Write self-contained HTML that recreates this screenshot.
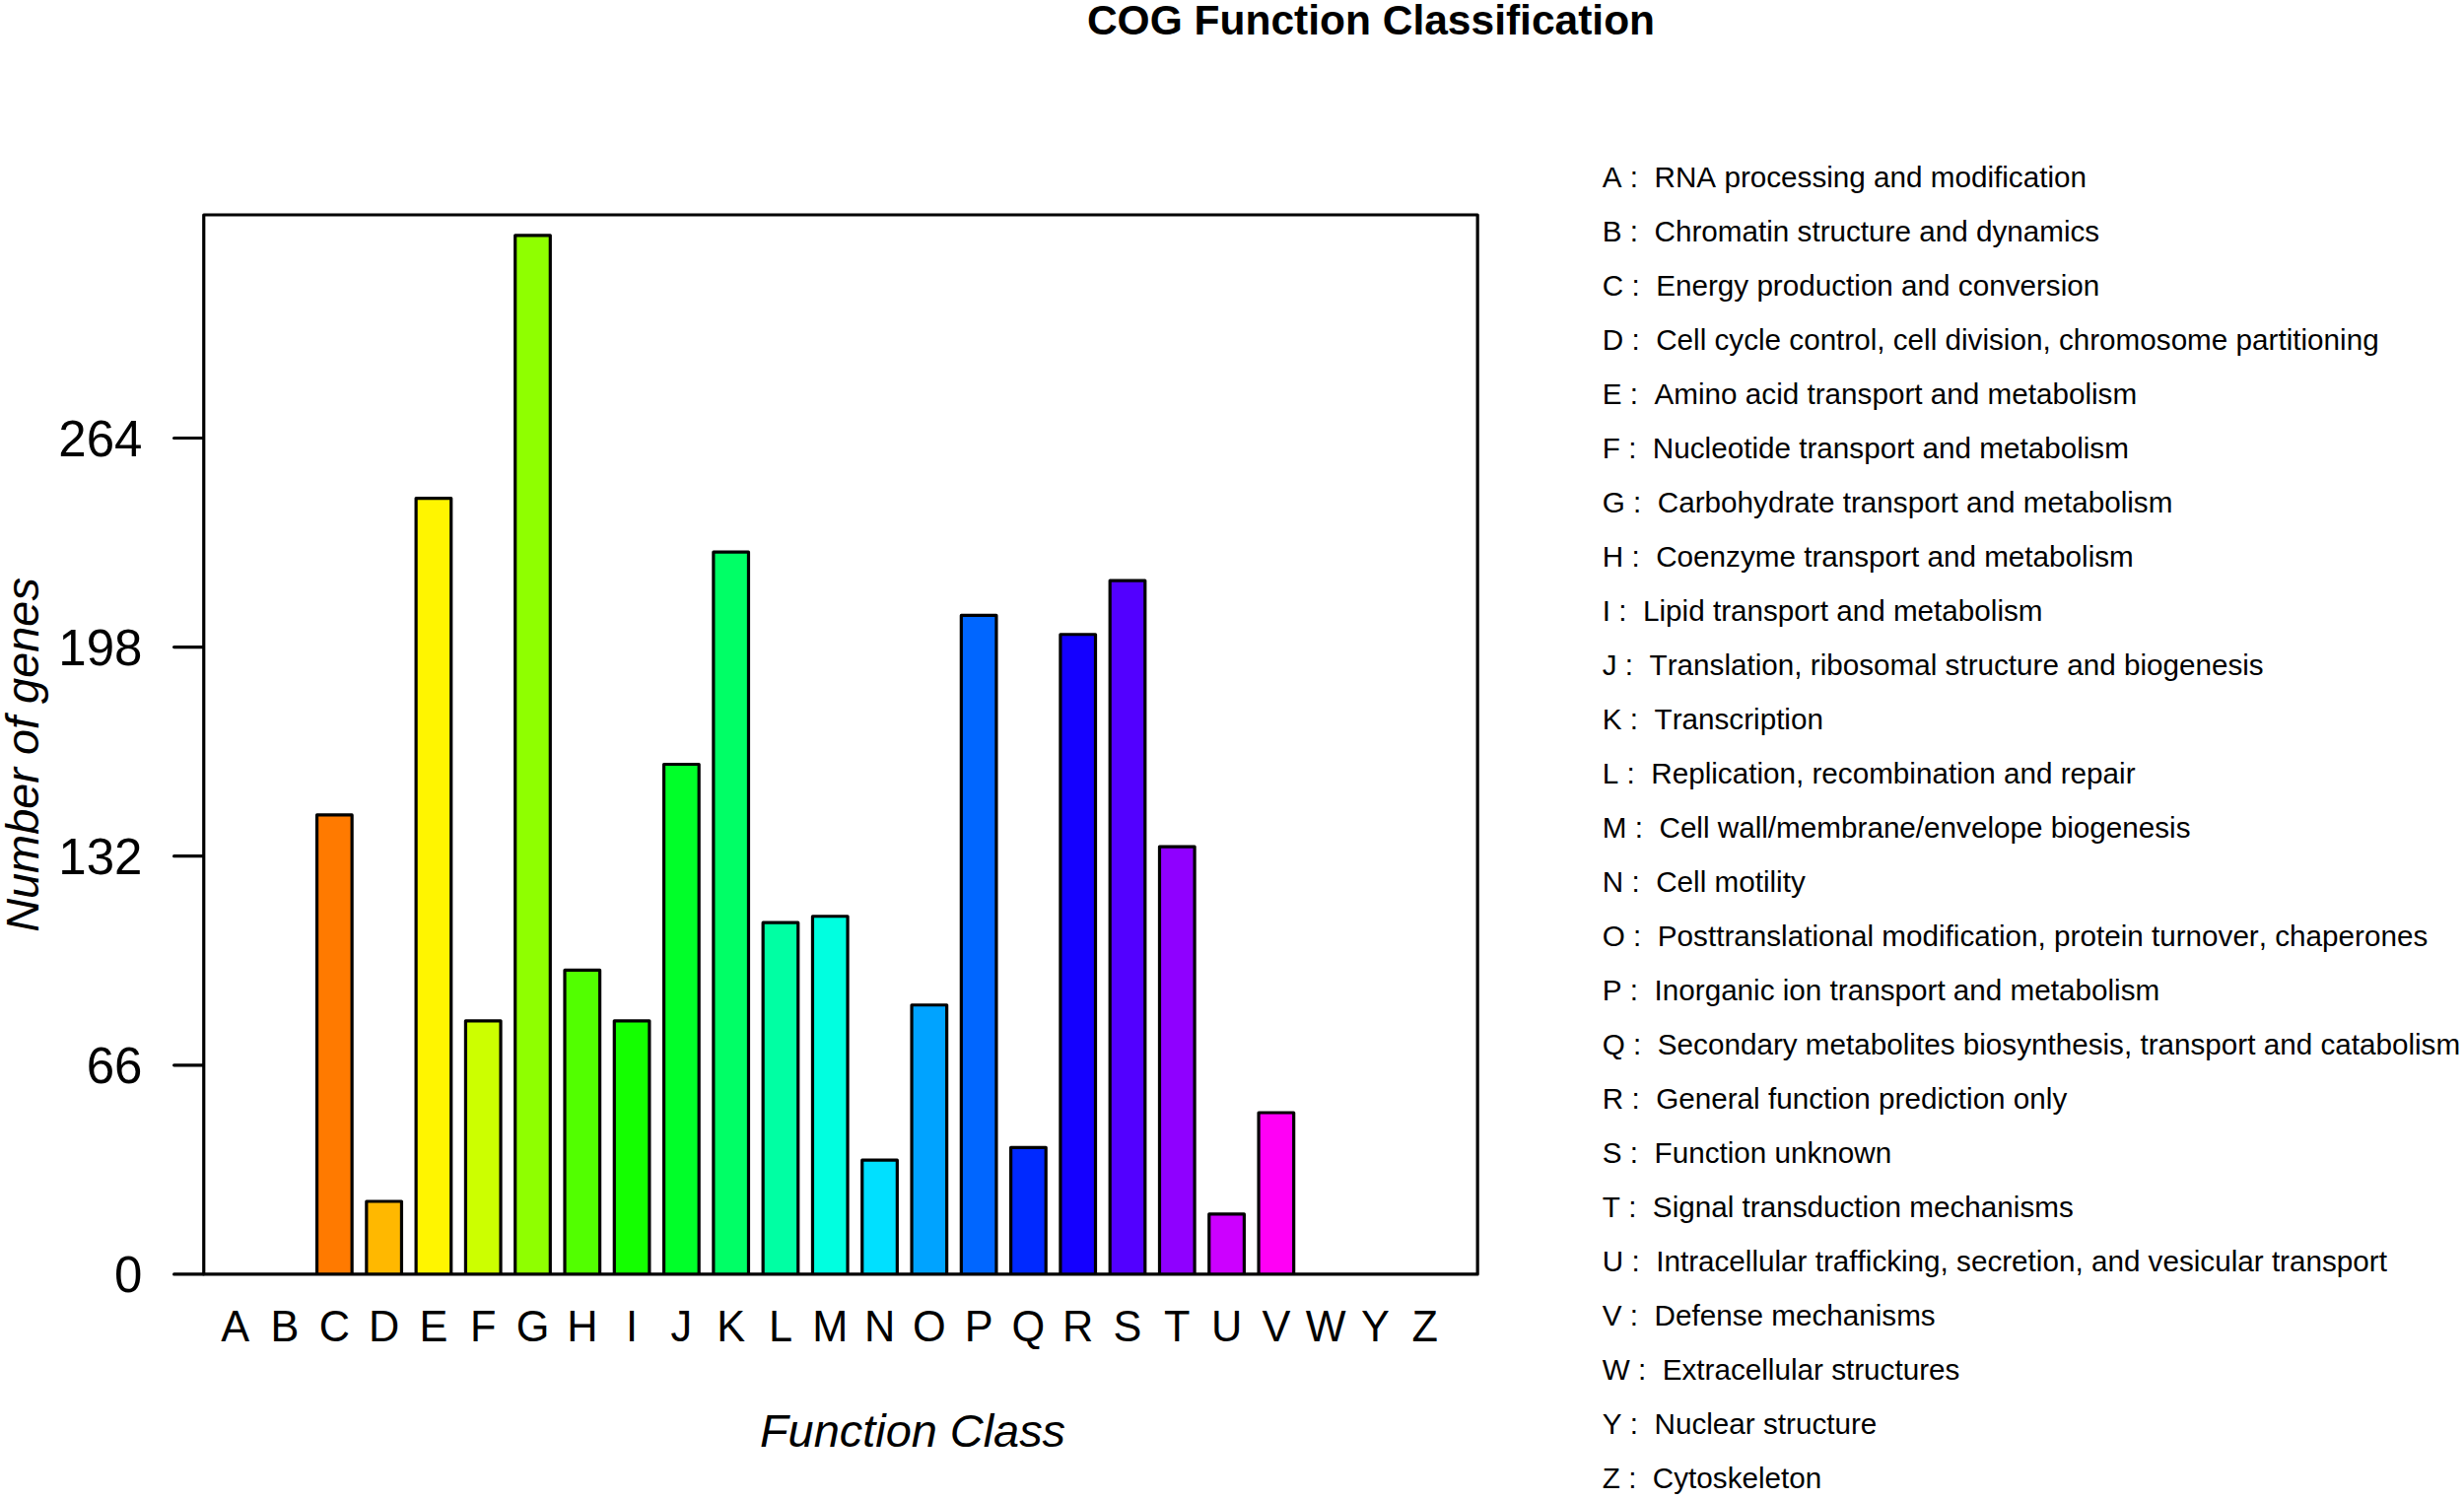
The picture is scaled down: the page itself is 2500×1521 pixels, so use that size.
<!DOCTYPE html>
<html lang="en">
<head>
<meta charset="utf-8">
<title>COG Function Classification</title>
<style>
html,body{margin:0;padding:0;background:#fff;}
body{width:2500px;height:1521px;overflow:hidden;}
svg{display:block;}
text{font-family:"Liberation Sans",sans-serif;fill:#000;white-space:pre;font-kerning:none;}
.ttl{font-weight:bold;font-size:42.5px;}
.lab{font-style:italic;font-size:46.9px;}
.ay{font-size:51px;}
.ax{font-size:43.3px;}
.lg{font-size:29.66px;}
.ln{stroke:#000;stroke-width:3.2;fill:none;stroke-linecap:round;stroke-linejoin:round;}
.bar{stroke:#000;stroke-width:3.2;stroke-linejoin:round;stroke-linecap:butt;}
</style>
</head>
<body>
<svg width="2500" height="1521" viewBox="0 0 2500 1521">
<rect x="0" y="0" width="2500" height="1521" fill="#ffffff"/>
<text class="ttl" x="1391" y="34.8" text-anchor="middle">COG Function Classification</text>
<g>
<path class="bar" d="M321.55 1292.90V826.92H357.15V1292.90" fill="#FF7A00"/>
<path class="bar" d="M371.84 1292.90V1218.99H407.44V1292.90" fill="#FFB800"/>
<path class="bar" d="M422.13 1292.90V505.56H457.73V1292.90" fill="#FFF500"/>
<path class="bar" d="M472.42 1292.90V1035.81H508.02V1292.90" fill="#CCFF00"/>
<path class="bar" d="M522.71 1292.90V238.83H558.31V1292.90" fill="#8FFF00"/>
<path class="bar" d="M573.00 1292.90V984.39H608.60V1292.90" fill="#52FF00"/>
<path class="bar" d="M623.29 1292.90V1035.81H658.89V1292.90" fill="#14FF00"/>
<path class="bar" d="M673.58 1292.90V775.50H709.18V1292.90" fill="#00FF29"/>
<path class="bar" d="M723.87 1292.90V560.19H759.47V1292.90" fill="#00FF66"/>
<path class="bar" d="M774.16 1292.90V936.19H809.76V1292.90" fill="#00FFA3"/>
<path class="bar" d="M824.45 1292.90V929.76H860.05V1292.90" fill="#00FFE0"/>
<path class="bar" d="M874.74 1292.90V1177.21H910.34V1292.90" fill="#00E0FF"/>
<path class="bar" d="M925.03 1292.90V1019.74H960.63V1292.90" fill="#00A3FF"/>
<path class="bar" d="M975.32 1292.90V624.46H1010.92V1292.90" fill="#0066FF"/>
<path class="bar" d="M1025.61 1292.90V1164.35H1061.21V1292.90" fill="#0029FF"/>
<path class="bar" d="M1075.90 1292.90V643.75H1111.50V1292.90" fill="#1400FF"/>
<path class="bar" d="M1126.19 1292.90V589.11H1161.79V1292.90" fill="#5200FF"/>
<path class="bar" d="M1176.48 1292.90V859.06H1212.08V1292.90" fill="#8F00FF"/>
<path class="bar" d="M1226.77 1292.90V1231.84H1262.37V1292.90" fill="#CC00FF"/>
<path class="bar" d="M1277.06 1292.90V1129.00H1312.66V1292.90" fill="#FF00F5"/>
</g>
<rect class="ln" x="206.75" y="218.00" width="1292.40" height="1074.90"/>
<line class="ln" x1="176.60" y1="1292.90" x2="206.15" y2="1292.90"/>
<text class="ay" transform="translate(144.4,1311.30) scale(1,1.02)" text-anchor="end">0</text>
<line class="ln" x1="176.60" y1="1080.80" x2="206.15" y2="1080.80"/>
<text class="ay" transform="translate(144.4,1099.20) scale(1,1.02)" text-anchor="end">66</text>
<line class="ln" x1="176.60" y1="868.70" x2="206.15" y2="868.70"/>
<text class="ay" transform="translate(144.4,887.10) scale(1,1.02)" text-anchor="end">132</text>
<line class="ln" x1="176.60" y1="656.60" x2="206.15" y2="656.60"/>
<text class="ay" transform="translate(144.4,675.00) scale(1,1.02)" text-anchor="end">198</text>
<line class="ln" x1="176.60" y1="444.50" x2="206.15" y2="444.50"/>
<text class="ay" transform="translate(144.4,462.90) scale(1,1.02)" text-anchor="end">264</text>
<g transform="translate(0,1360.9) scale(1,1.045)">
<text class="ax" x="238.77" y="0" text-anchor="middle">A</text>
<text class="ax" x="289.06" y="0" text-anchor="middle">B</text>
<text class="ax" x="339.35" y="0" text-anchor="middle">C</text>
<text class="ax" x="389.64" y="0" text-anchor="middle">D</text>
<text class="ax" x="439.93" y="0" text-anchor="middle">E</text>
<text class="ax" x="490.22" y="0" text-anchor="middle">F</text>
<text class="ax" x="540.51" y="0" text-anchor="middle">G</text>
<text class="ax" x="590.80" y="0" text-anchor="middle">H</text>
<text class="ax" x="641.09" y="0" text-anchor="middle">I</text>
<text class="ax" x="691.38" y="0" text-anchor="middle">J</text>
<text class="ax" x="741.67" y="0" text-anchor="middle">K</text>
<text class="ax" x="791.96" y="0" text-anchor="middle">L</text>
<text class="ax" x="842.25" y="0" text-anchor="middle">M</text>
<text class="ax" x="892.54" y="0" text-anchor="middle">N</text>
<text class="ax" x="942.83" y="0" text-anchor="middle">O</text>
<text class="ax" x="993.12" y="0" text-anchor="middle">P</text>
<text class="ax" x="1043.41" y="0" text-anchor="middle">Q</text>
<text class="ax" x="1093.70" y="0" text-anchor="middle">R</text>
<text class="ax" x="1143.99" y="0" text-anchor="middle">S</text>
<text class="ax" x="1194.28" y="0" text-anchor="middle">T</text>
<text class="ax" x="1244.57" y="0" text-anchor="middle">U</text>
<text class="ax" x="1294.86" y="0" text-anchor="middle">V</text>
<text class="ax" x="1345.15" y="0" text-anchor="middle">W</text>
<text class="ax" x="1395.44" y="0" text-anchor="middle">Y</text>
<text class="ax" x="1445.73" y="0" text-anchor="middle">Z</text>
</g>
<text class="lab" x="926" y="1467.5" text-anchor="middle">Function Class</text>
<text class="lab" transform="translate(39.2,766) rotate(-90)" text-anchor="middle">Number of genes</text>
<text class="lg" x="1625.80" y="190.00">A :  RNA processing and modification</text>
<text class="lg" x="1625.80" y="245.02">B :  Chromatin structure and dynamics</text>
<text class="lg" x="1625.80" y="300.04">C :  Energy production and conversion</text>
<text class="lg" x="1625.80" y="355.06">D :  Cell cycle control, cell division, chromosome partitioning</text>
<text class="lg" x="1625.80" y="410.08">E :  Amino acid transport and metabolism</text>
<text class="lg" x="1625.80" y="465.10">F :  Nucleotide transport and metabolism</text>
<text class="lg" x="1625.80" y="520.12">G :  Carbohydrate transport and metabolism</text>
<text class="lg" x="1625.80" y="575.14">H :  Coenzyme transport and metabolism</text>
<text class="lg" x="1625.80" y="630.16">I :  Lipid transport and metabolism</text>
<text class="lg" x="1625.80" y="685.18">J :  Translation, ribosomal structure and biogenesis</text>
<text class="lg" x="1625.80" y="740.20">K :  Transcription</text>
<text class="lg" x="1625.80" y="795.22">L :  Replication, recombination and repair</text>
<text class="lg" x="1625.80" y="850.24">M :  Cell wall/membrane/envelope biogenesis</text>
<text class="lg" x="1625.80" y="905.26">N :  Cell motility</text>
<text class="lg" x="1625.80" y="960.28">O :  Posttranslational modification, protein turnover, chaperones</text>
<text class="lg" x="1625.80" y="1015.30">P :  Inorganic ion transport and metabolism</text>
<text class="lg" x="1625.80" y="1070.32">Q :  Secondary metabolites biosynthesis, transport and catabolism</text>
<text class="lg" x="1625.80" y="1125.34">R :  General function prediction only</text>
<text class="lg" x="1625.80" y="1180.36">S :  Function unknown</text>
<text class="lg" x="1625.80" y="1235.38">T :  Signal transduction mechanisms</text>
<text class="lg" x="1625.80" y="1290.40">U :  Intracellular trafficking, secretion, and vesicular transport</text>
<text class="lg" x="1625.80" y="1345.42">V :  Defense mechanisms</text>
<text class="lg" x="1625.80" y="1400.44">W :  Extracellular structures</text>
<text class="lg" x="1625.80" y="1455.46">Y :  Nuclear structure</text>
<text class="lg" x="1625.80" y="1510.48">Z :  Cytoskeleton</text>
</svg>
</body>
</html>
